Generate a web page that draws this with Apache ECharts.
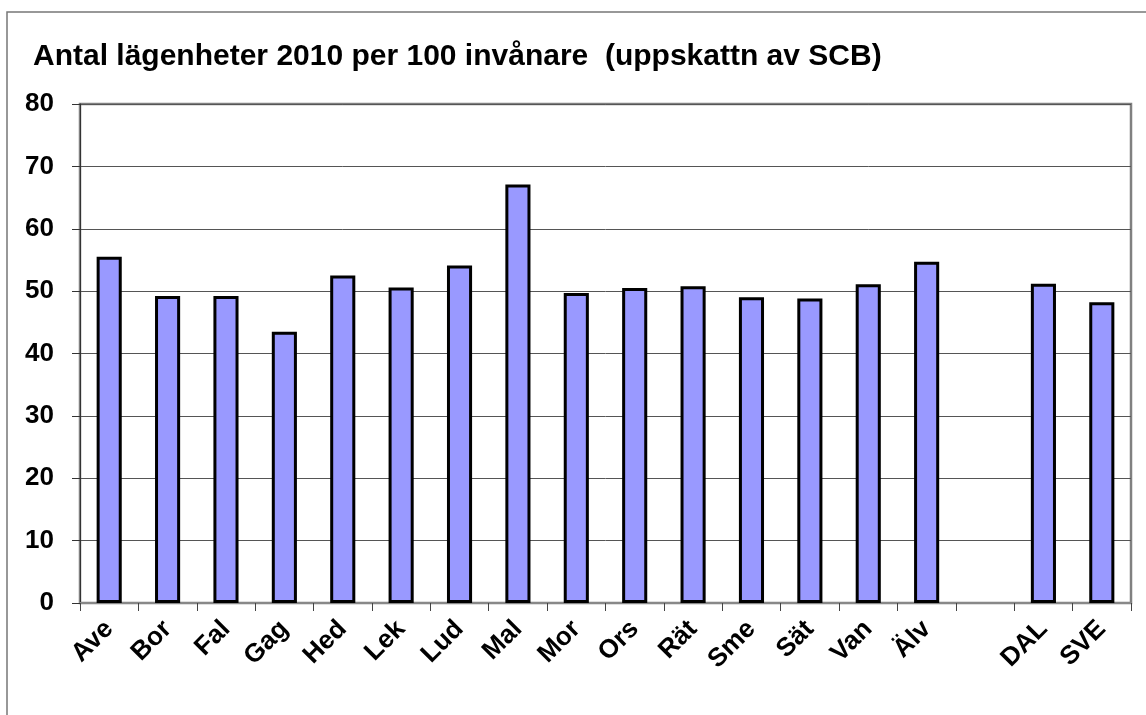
<!DOCTYPE html>
<html>
<head>
<meta charset="utf-8">
<title>Antal lägenheter 2010</title>
<script src="https://cdn.jsdelivr.net/npm/echarts@6/dist/echarts.min.js"></script>
<style>
  html, body { margin: 0; padding: 0; background: #fff; }
  #chart { width: 1146px; height: 715px; }
</style>
</head>
<body>
<div id="chart"></div>
<script>
// kommuner + län + riket, tom plats före DAL
const categories = ['Ave', 'Bor', 'Fal', 'Gag', 'Hed', 'Lek', 'Lud', 'Mal', 'Mor', 'Ors', 'Rät', 'Sme', 'Sät', 'Van', 'Älv', '', 'DAL', 'SVE']
const values = [55.5, 49.2, 49.2, 43.5, 52.5, 50.6, 54.1, 67.1, 49.7, 50.5, 50.8, 49.0, 48.8, 51.1, 54.7, null, 51.2, 48.2]
const yTicks = [0, 10, 20, 30, 40, 50, 60, 70, 80]

const font = 'Arial, "Liberation Sans", sans-serif'

const chart = echarts.init(document.getElementById('chart'))

const option = {
  animation: false,
  backgroundColor: '#fff',
  title: {
    text: 'Antal lägenheter 2010 per 100 invånare  (uppskattn av SCB)',
    left: 33,
    top: 42,
    padding: 0,
    textStyle: {
      fontFamily: font,
      fontSize: 30,
      fontWeight: 'bold',
      color: '#000',
    },
  },
  // ram runt hela diagrammet
  graphic: [
    {
      type: 'rect',
      shape: { x: 7, y: 12, width: 1160, height: 720 },
      style: { fill: 'none', stroke: '#777', lineWidth: 1.5 },
      silent: true,
    },
  ],
  grid: {
    left: 80,
    right: 15,
    top: 104,
    bottom: 112,
    show: true,
    borderColor: '#808080',
    borderWidth: 2.5,
    containLabel: false,
  },
  xAxis: {
    type: 'category',
    data: categories,
    axisLine: { lineStyle: { color: '#888', width: 2 } },
    axisTick: { show: true, length: 8, interval: 0, lineStyle: { color: '#444' } },
    axisLabel: {
      interval: 0,
      rotate: 45,
      margin: 22,
      fontFamily: font,
      fontSize: 26,
      fontWeight: 'bold',
      color: '#000',
    },
  },
  yAxis: {
    type: 'value',
    min: yTicks[0],
    max: yTicks[yTicks.length - 1],
    interval: 10,
    axisLine: { show: true, lineStyle: { color: '#333', width: 1 } },
    axisTick: { show: true, length: 8, lineStyle: { color: '#333' } },
    axisLabel: {
      margin: 26,
      fontFamily: font,
      fontSize: 26,
      fontWeight: 'bold',
      color: '#000',
    },
    splitLine: { lineStyle: { color: '#555', width: 1 } },
  },
  series: [
    {
      type: 'bar',
      data: values,
      barWidth: '43%',
      itemStyle: {
        color: '#9999ff',
        borderColor: '#000',
        borderWidth: 3,
      },
    },
  ],
}

chart.setOption(option)
</script>
</body>
</html>
